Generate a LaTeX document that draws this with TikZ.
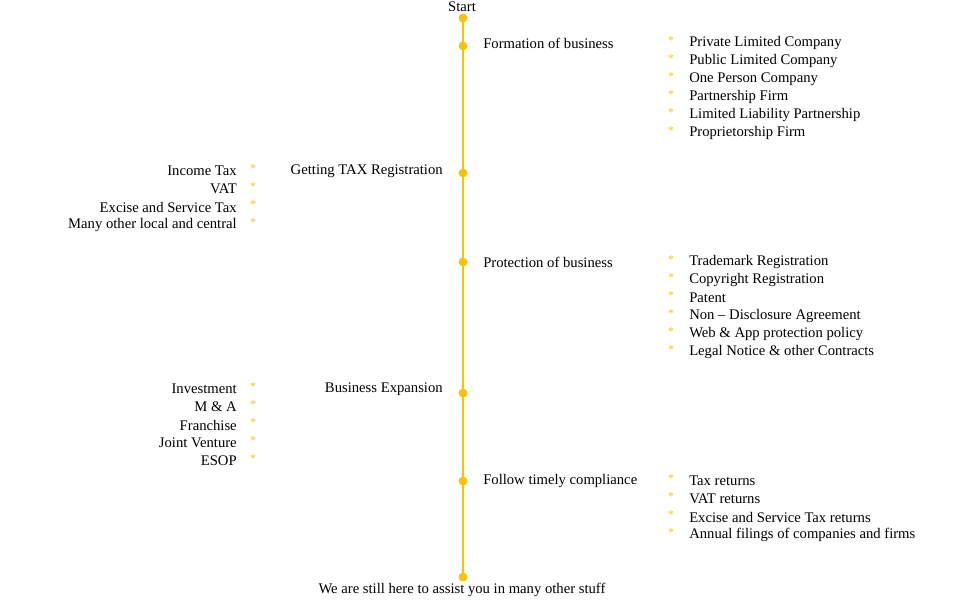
\documentclass[tikz,border=0pt]{standalone}
\usepackage{fontspec}
\setmainfont{Liberation Serif}
\usetikzlibrary{positioning}
\definecolor{gold}{HTML}{FFC000}
\tikzset{
  dot/.style={circle,fill=gold,inner sep=0pt,minimum size=6.4pt},
  lbl/.style={inner sep=0pt,font=\fontsize{11}{13}\selectfont},
  star/.style={inner sep=0pt,text=gold,font=\fontsize{9}{10}\selectfont}
}
\begin{document}
\begin{tikzpicture}[x=0.75pt,y=-0.75pt]
  \useasboundingbox (0,0) rectangle (961,603);

  % timeline points
  \foreach \n/\y in {s/18,a/46,b/173,c/262,d/393,e/481,f/577}
    \node (p\n) [dot] at (463,\y) {};
  \draw[gold,line width=1.9pt] (ps.center) -- (pf.center);
  \foreach \n in {s,a,b,c,d,e,f} \node [dot] at (p\n) {};

  \node (start) [lbl] at (462,7) {Start};
  \node (finish) [lbl] at (462,590) {We are still here to assist you in many other stuff};

  % stage labels
  \node (formation) [lbl,anchor=west] at (483,43) {Formation of business};
  \node (taxreg) [lbl,anchor=east] at (443,171) {Getting TAX Registration};
  \node (protection) [lbl,anchor=west] at (483,262) {Protection of business};
  \node (expansion) [lbl,anchor=east] at (443,389) {Business Expansion};
  \node (compliance) [lbl,anchor=west] at (483,481) {Follow timely compliance};

  % right hand lists
  \foreach \t [count=\i from 0] in {Private Limited Company,Public Limited Company,One Person Company,Partnership Firm,Limited Liability Partnership,Proprietorship Firm}{
    \node [star] at (671,{41+18*\i}) {*};
    \node [lbl,anchor=west] at (689,{43+18*\i}) {\t};
  }
  \foreach \t [count=\i from 0] in {Trademark Registration,Copyright Registration,Patent,Non -- Disclosure Agreement,Web \& App protection policy,Legal Notice \& other Contracts}{
    \node [star] at (671,{260+18*\i}) {*};
    \node [lbl,anchor=west] at (689,{262+18*\i}) {\t};
  }
  \foreach \t [count=\i from 0] in {Tax returns,VAT returns,Excise and Service Tax returns,Annual filings of companies and firms}{
    \node [star] at (671,{479+18*\i}) {*};
    \node [lbl,anchor=west] at (689,{481+18*\i}) {\t};
  }

  % left hand lists
  \foreach \t [count=\i from 0] in {Income Tax,VAT,Excise and Service Tax,Many other local and central}{
    \node [star] at (253,{169+18*\i}) {*};
    \node [lbl,anchor=east] at (237,{171+18*\i}) {\t};
  }
  \foreach \t [count=\i from 0] in {Investment,M \& A,Franchise,Joint Venture,ESOP}{
    \node [star] at (253,{387+18*\i}) {*};
    \node [lbl,anchor=east] at (237,{389+18*\i}) {\t};
  }
\end{tikzpicture}
\end{document}
